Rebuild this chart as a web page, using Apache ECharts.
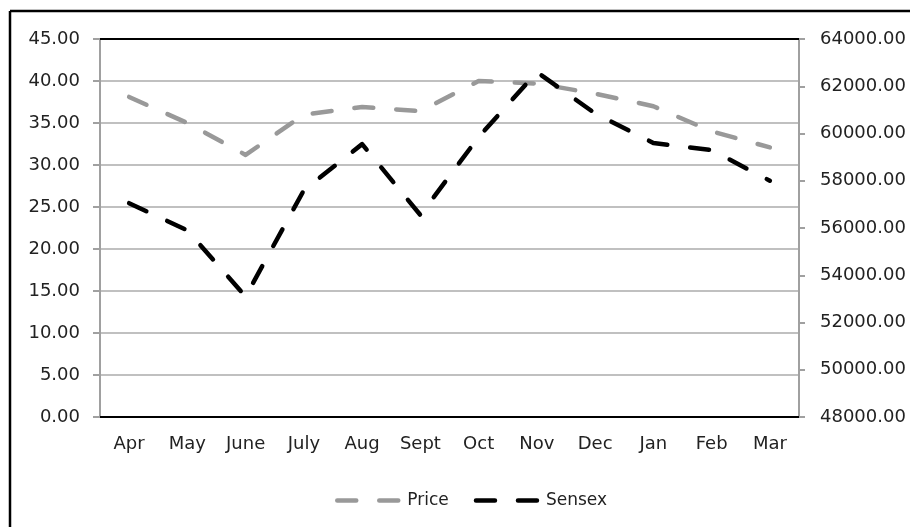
<!DOCTYPE html>
<html>
<head>
<meta charset="utf-8">
<script src="https://cdn.jsdelivr.net/npm/echarts@6/dist/echarts.min.js"></script>
<style>
  html, body { margin: 0; padding: 0; background: #fff; }
  #chart { width: 910px; height: 527px; }
</style>
</head>
<body>
<div id="chart"></div>
<script>
const months = ["Apr", "May", "June", "July", "Aug", "Sept", "Oct", "Nov", "Dec", "Jan", "Feb", "Mar"];
const price = [38.1, 35.0, 31.2, 36.0, 36.9, 36.4, 40.0, 39.7, 38.5, 37.0, 34.0, 32.1];
const sensex = [57050, 55900, 53100, 57600, 59550, 56550, 59850, 62600, 60850, 59600, 59300, 58000];

const FONT = "DejaVu Sans";
const dash = [19, 23];

const chart = echarts.init(document.getElementById("chart"));
chart.setOption({
  animation: false,
  backgroundColor: "#fff",
  textStyle: { fontFamily: FONT },
  grid: { left: 100, right: 111, top: 39, bottom: 110 },
  // frame of the original picture (left and top edge only)
  graphic: [
    { type: "line", shape: { x1: 10, y1: 11, x2: 10, y2: 527 }, style: { stroke: "#000", lineWidth: 2.5 } },
    { type: "line", shape: { x1: 10, y1: 11, x2: 910, y2: 11 }, style: { stroke: "#000", lineWidth: 2.5 } }
  ],
  legend: {
    left: 330,
    top: 487,
    itemWidth: 65,
    itemHeight: 14,
    itemGap: 25,
    itemStyle: { opacity: 0 },
    lineStyle: { width: 4.5, type: dash, cap: "round" },
    textStyle: { fontFamily: FONT, fontSize: 17, color: "#222" },
    data: ["Price", "Sensex"]
  },
  xAxis: [
    {
      type: "category",
      data: months,
      boundaryGap: true,
      axisLine: { lineStyle: { color: "#000", width: 2 } },
      axisTick: { length: 5, lineStyle: { color: "#000", width: 2 } },
      axisLabel: { color: "#222", fontSize: 18, fontFamily: FONT, margin: 18, interval: 0 }
    },
    {
      type: "category",
      position: "top",
      data: months,
      axisLine: { lineStyle: { color: "#000", width: 2 } },
      axisTick: { show: false },
      axisLabel: { show: false }
    }
  ],
  yAxis: [
    {
      type: "value",
      min: 0,
      max: 45,
      interval: 5,
      axisLine: { show: true, lineStyle: { color: "#a0a0a0", width: 2 } },
      axisTick: { show: true, length: 7, lineStyle: { color: "#a0a0a0", width: 2 } },
      splitLine: { lineStyle: { color: "#c0c0c0", width: 2 } },
      axisLabel: {
        color: "#222", fontSize: 18, fontFamily: FONT, margin: 20,
        formatter: v => v.toFixed(2)
      }
    },
    {
      type: "value",
      position: "right",
      min: 48000,
      max: 64000,
      interval: 2000,
      axisLine: { show: true, lineStyle: { color: "#a0a0a0", width: 2 } },
      axisTick: { show: true, length: 6, lineStyle: { color: "#a0a0a0", width: 2 } },
      splitLine: { show: false },
      axisLabel: {
        color: "#222", fontSize: 18, fontFamily: FONT, margin: 21,
        formatter: v => v.toFixed(2)
      }
    }
  ],
  series: [
    {
      name: "Price",
      type: "line",
      yAxisIndex: 0,
      data: price,
      symbol: "none",
      showSymbol: false,
      itemStyle: { color: "#999" },
      lineStyle: { color: "#999", width: 4.5, type: dash, cap: "round", join: "round" }
    },
    {
      name: "Sensex",
      type: "line",
      yAxisIndex: 1,
      data: sensex,
      symbol: "none",
      showSymbol: false,
      itemStyle: { color: "#000" },
      lineStyle: { color: "#000", width: 4.5, type: dash, cap: "round", join: "round" }
    }
  ]
});
</script>
</body>
</html>
